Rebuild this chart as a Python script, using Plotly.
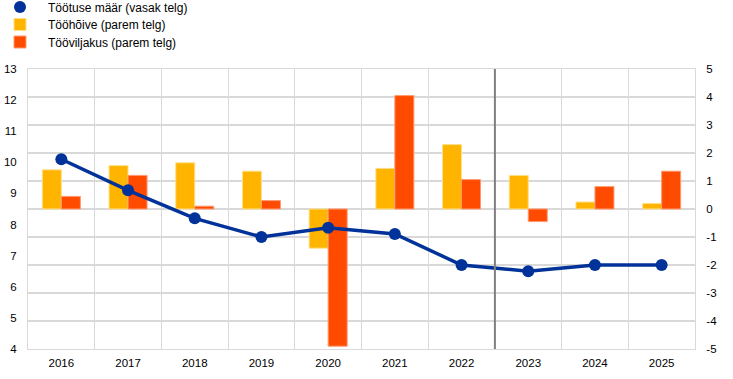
import plotly.graph_objects as go

years = ["2016", "2017", "2018", "2019", "2020", "2021", "2022", "2023", "2024", "2025"]
unemployment = [10.1, 9.1, 8.2, 7.6, 7.9, 7.7, 6.7, 6.5, 6.7, 6.7]
employment = [1.4, 1.55, 1.65, 1.35, -1.4, 1.45, 2.3, 1.2, 0.25, 0.2]
productivity = [0.45, 1.2, 0.1, 0.3, -4.9, 4.05, 1.05, -0.45, 0.8, 1.35]
right_tick_vals = [5, 4, 3, 2, 1, 0, -1, -2, -3, -4, -5]
right_tick_text = ["5", "4", "3", "2", "1", "0", "-1", "-2", "-3", "-4", "-5"]

BLUE = "#003299"
YELLOW = "#FFB400"
ORANGE = "#FF4B00"
GRID = "#d9d9d9"
FONT = "Arial, Liberation Sans, sans-serif"

fig = go.Figure()

fig.add_trace(go.Bar(x=years, y=employment, name="Tööhõive (parem telg)",
                     marker=dict(color=YELLOW, line=dict(color="#ffe08a", width=1)),
                     yaxis="y", legend="legend2"))
fig.add_trace(go.Bar(x=years, y=productivity, name="Tööviljakus (parem telg)",
                     marker=dict(color=ORANGE, line=dict(color="#ff9a70", width=1)),
                     yaxis="y", legend="legend3"))
fig.add_trace(go.Scatter(x=years, y=unemployment, mode="lines+markers",
                         line=dict(color=BLUE, width=3.5),
                         marker=dict(color=BLUE, size=12),
                         yaxis="y2", showlegend=False))
fig.add_trace(go.Scatter(x=[None], y=[None], mode="markers", name="Töötuse määr (vasak telg)",
                         marker=dict(color=BLUE, size=12, symbol="circle"),
                         yaxis="y2", legend="legend"))

fig.add_shape(type="line", xref="x", yref="paper", x0=6.5, x1=6.5, y0=0, y1=1,
              line=dict(color="#7f7f7f", width=2), layer="above")


def leg(pixel_y):
    return dict(x=-36 / 667, y=1 + (69 - pixel_y) / 280, xanchor="left", yanchor="middle",
                orientation="v", font=dict(size=12, family=FONT),
                bgcolor="rgba(0,0,0,0)", itemwidth=46)


fig.update_layout(
    width=733, height=379,
    margin=dict(l=28, r=38, t=69, b=30, autoexpand=False),
    paper_bgcolor="white", plot_bgcolor="white",
    font=dict(family=FONT, size=11.5, color="#000000"),
    barmode="group", bargap=0.43, bargroupgap=0,
    showlegend=True,
    legend=leg(7), legend2=leg(24.5), legend3=leg(42),
    xaxis=dict(type="category", tickson="boundaries", showgrid=True, gridcolor=GRID,
               gridwidth=1, ticks="", showline=True, linecolor=GRID, mirror=True,
               tickfont=dict(size=11.5), range=[-0.5, 9.5], ticklabelstandoff=3),
    yaxis=dict(side="right", range=[-5, 5], tickmode="array", tickvals=right_tick_vals,
               ticktext=right_tick_text, showgrid=True, gridcolor=GRID,
               gridwidth=1.5, zeroline=False, ticks="", tickfont=dict(size=11.5),
               showline=True, linecolor=GRID, ticklabelstandoff=8),
    yaxis2=dict(side="left", overlaying="y", range=[4, 13], dtick=1, showgrid=False,
                zeroline=False, ticks="", tickfont=dict(size=11.5),
                showline=True, linecolor=GRID, ticklabelstandoff=8),
)

fig.write_html("out.html", config={"displayModeBar": False},
               post_script="document.body.style.margin='0';")
